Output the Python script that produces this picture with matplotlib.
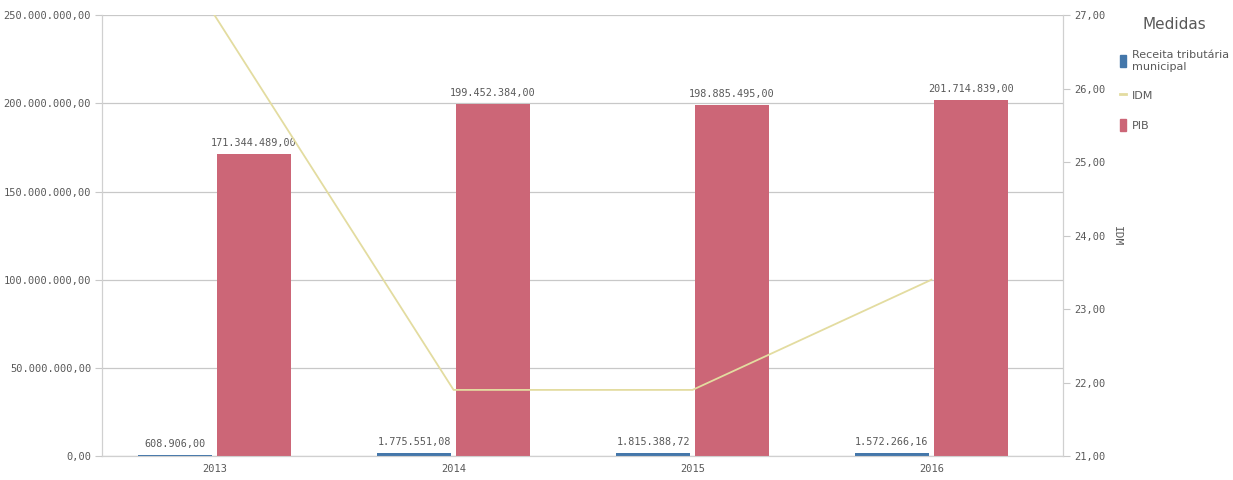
import matplotlib
matplotlib.use('Agg')
import matplotlib.pyplot as plt
from matplotlib.patches import Patch
from matplotlib.lines import Line2D
import numpy as np

# data
anos = ['2013', '2014', '2015', '2016']
receita = [608906.00, 1775551.08, 1815388.72, 1572266.16]
pib = [171344489.00, 199452384.00, 198885495.00, 201714839.00]
idm = [27.0, 21.9, 21.9, 23.4]
left_ticks = [0, 50e6, 100e6, 150e6, 200e6, 250e6]
right_ticks = [21, 22, 23, 24, 25, 26, 27]

c_blue = '#4477aa'
c_red = '#cc6677'
c_line = '#e3dca0'
c_txt = '#595959'
mono = 'DejaVu Sans Mono'


def br(v):
    # brazilian number format: 1.234.567,89
    s = '{:,.2f}'.format(v)
    return s.replace(',', '#').replace('.', ',').replace('#', '.')


fig = plt.figure(figsize=(12.33, 4.8), dpi=100)
ax = fig.add_axes([0.083, 0.05, 0.779, 0.918])
ax2 = ax.twinx()

x = np.arange(len(anos))
w = 0.31
off = 0.165

ax.bar(x - off, receita, w, color=c_blue, zorder=3)
ax.bar(x + off, pib, w, color=c_red, zorder=3)

for i in range(len(anos)):
    ax.text(x[i] - off, receita[i] + 3.5e6, br(receita[i]), ha='center', va='bottom',
            fontsize=7.3, color=c_txt, family=mono)
    ax.text(x[i] + off, pib[i] + 3.5e6, br(pib[i]), ha='center', va='bottom',
            fontsize=7.3, color=c_txt, family=mono)

ax2.plot(x, idm, color=c_line, lw=1.3, zorder=4)

ax.set_xlim(-0.47, 3.55)
ax.set_ylim(0, 250e6)
ax2.set_ylim(21, 27)

ax.set_yticks(left_ticks)
ax.set_yticklabels([br(v) for v in left_ticks], family=mono, fontsize=7.5, color=c_txt)
ax2.set_yticks(right_ticks)
ax2.set_yticklabels([br(v) for v in right_ticks], family=mono, fontsize=7.5, color=c_txt)
ax.set_xticks(x)
ax.set_xticklabels(anos, family=mono, fontsize=7.5, color=c_txt)

ax.grid(axis='y', color='#c8c8c8', lw=0.9, zorder=0)
ax.set_axisbelow(True)
for a in (ax, ax2):
    for s in a.spines.values():
        s.set_color('#d0d0d0')
    a.spines['top'].set_visible(False)
ax.tick_params(axis='x', length=0, pad=6)
ax.tick_params(axis='y', length=5, color='#c8c8c8', pad=3)
ax2.tick_params(axis='y', length=5, color='#c8c8c8', pad=3)

ax2.set_ylabel('IDM', rotation=-90, fontsize=8, color=c_txt, family=mono)
ax2.yaxis.set_label_coords(1.062, 0.5)

handles = [Patch(color=c_blue, label='Receita tributária\nmunicipal'),
           Line2D([], [], color=c_line, lw=2, label='IDM'),
           Patch(color=c_red, label='PIB')]
leg = fig.legend(handles=handles, title='Medidas', loc='upper left',
                 bbox_to_anchor=(0.9, 0.985), frameon=False, fontsize=8,
                 title_fontsize=11, handlelength=0.6, handleheight=1.3,
                 handletextpad=0.5, labelspacing=1.6, alignment='center')
for t in leg.get_texts():
    t.set_color(c_txt)
leg.get_title().set_color(c_txt)

fig.savefig('out.png', dpi=100)
